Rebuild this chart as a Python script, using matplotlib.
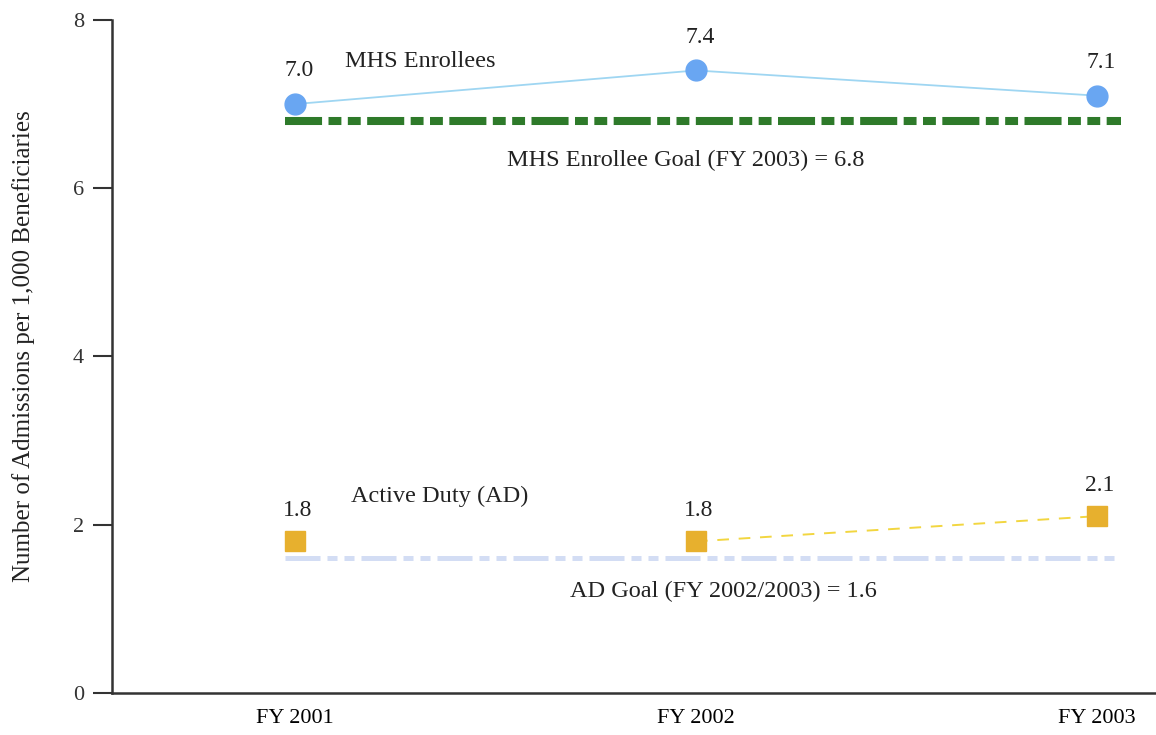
import matplotlib.pyplot as plt

# admissions per 1,000 beneficiaries by fiscal year
years = ['FY 2001', 'FY 2002', 'FY 2003']
mhs_enrollees = [7.0, 7.4, 7.1]
active_duty = [1.8, 1.8, 2.1]
mhs_goal = 6.8
ad_goal = 1.6

plt.rcParams['font.family'] = ['Liberation Serif', 'DejaVu Serif']

fig = plt.figure(figsize=(11.56, 7.35), dpi=100)
ax = fig.add_axes([0.0969, 0.0575, 0.9031, 0.9153])

x = list(range(len(years)))

# goal lines
ax.plot([-0.025, 2.06], [mhs_goal, mhs_goal], color='#2e7a2a', lw=5.8,
        linestyle=(0, (4.6, 0.8, 1.6, 0.8, 1.6, 0.8)), solid_capstyle='butt')
ax.plot([-0.025, 2.06], [ad_goal, ad_goal], color='#d3ddf4', lw=3.6,
        linestyle=(0, (7.0, 1.4, 2.0, 1.4, 2.0, 1.4)))

# series
ax.plot(x, mhs_enrollees, color='#9fd6f2', lw=1.3, zorder=3)
ax.plot(x, mhs_enrollees, 'o', color='#69a6f2', ms=15, mec='#69a6f2', zorder=4)
ax.plot(x[1:], active_duty[1:], color='#f2d640', lw=1.4, dashes=(6, 5), zorder=3)
ax.plot(x, active_duty, 's', color='#e7b02e', ms=15, mec='#e7b02e', zorder=4)

for xi, v in zip(x, mhs_enrollees):
    ax.annotate(f'{v:.1f}', (xi, v), xytext=(3, 24), textcoords='offset points',
                ha='center', va='center', fontsize=17, color='#222222')
for xi, v in zip(x, active_duty):
    ax.annotate(f'{v:.1f}', (xi, v), xytext=(2, 22), textcoords='offset points',
                ha='center', va='center', fontsize=17, color='#222222')

ax.text(0.125, 7.51, 'MHS Enrollees', fontsize=17.5, color='#222222', va='center')
ax.text(0.53, 6.33, f'MHS Enrollee Goal (FY 2003) = {mhs_goal}', fontsize=17.5,
        color='#222222', va='center')
ax.text(0.14, 2.33, 'Active Duty (AD)', fontsize=17.5, color='#222222', va='center')
ax.text(0.685, 1.20, f'AD Goal (FY 2002/2003) = {ad_goal}', fontsize=17.5,
        color='#222222', va='center')

ax.set_xlim(-0.456, 2.147)
ax.set_ylim(0, 8)
ax.set_xticks(x)
ax.set_xticklabels(years, fontsize=16)
ax.set_yticks([0, 2, 4, 6, 8])
ax.tick_params(axis='x', length=0, pad=12)
ax.tick_params(axis='y', length=14, width=1.5, labelsize=16, pad=6, colors='#333333')
ax.set_ylabel('Number of Admissions per 1,000 Beneficiaries', fontsize=18,
              color='#222222')
ax.yaxis.set_label_coords(-0.074, 0.515)

for side in ['top', 'right']:
    ax.spines[side].set_visible(False)
for side in ['left', 'bottom']:
    ax.spines[side].set_linewidth(1.8)
    ax.spines[side].set_color('#333333')

plt.savefig('out.png', dpi=100)
